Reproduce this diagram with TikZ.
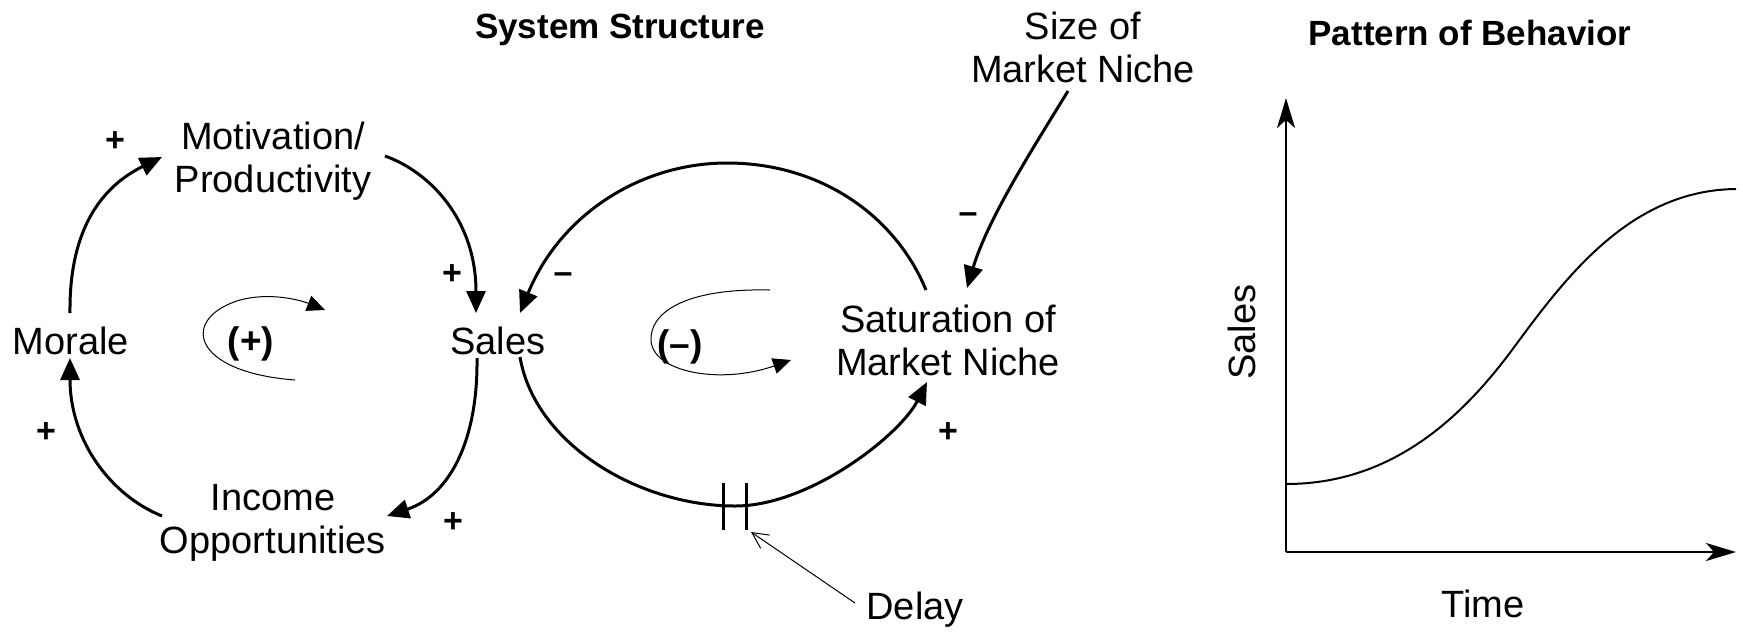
\documentclass[tikz,border=0pt]{standalone}
\usepackage{fontspec}
\setmainfont{Liberation Sans}
\usetikzlibrary{arrows.meta,calc}
\begin{document}
\begin{tikzpicture}[x=0.5pt,y=-0.5pt,
  lbl/.style={font=\fontsize{19}{21.5}\selectfont, align=center, inner sep=0pt},
  ttl/.style={font=\fontsize{17.5}{21}\selectfont\bfseries, inner sep=0pt},
  sgn/.style={font=\fontsize{17}{20}\selectfont\bfseries, inner sep=0pt},
  looplbl/.style={font=\fontsize{18.5}{21}\selectfont\bfseries, inner sep=0pt},
  arr/.style={line width=1.5pt, -{Triangle[length=11pt,width=9.5pt]}},
  loopline/.style={line width=0.5pt, -{Triangle[length=9pt,width=8pt]}},
  axis/.style={line width=1pt, -{Stealth[length=15pt,width=9pt,inset=4pt]}},
  delayarr/.style={line width=0.5pt, -{Straight Barb[length=8pt,width=8pt]}},
  bar/.style={line width=1.5pt},
]
\fill[white] (0,0) rectangle (1743,633);
\useasboundingbox (0,0) rectangle (1743,633);

% titles
\node[ttl] (t1) at (620,30) {System Structure};
\node[ttl] (t2) at (1470,33) {Pattern of Behavior};

% variables
\node[lbl] (mot) at (273,161) {Motivation/\\Productivity};
\node[lbl] (mor) at (71,341) {Morale};
\node[lbl] (sal) at (498,341) {Sales};
\node[lbl] (inc) at (273,523) {Income\\Opportunities};
\node[lbl] (sat) at (948,340) {Saturation of\\Market Niche};
\node[lbl] (siz) at (1083,47) {Size of\\Market Niche};
\node[lbl] (del) at (915,610) {Delay};

% causal links
\draw[arr] ($(mor)+(-1,-28)$) .. controls (69,225) and (105,185) .. ($(mot)+(-111,-4)$);
\draw[arr] ($(mot)+(112,-5)$) .. controls (430,172) and (476,220) .. ($(sal)+(-22,-28)$);
\draw[arr] ($(sal)+(-21,17)$) .. controls (478,440) and (450,495) .. ($(inc)+(114,-7)$);
\draw[arr] ($(inc)+(-111,-7)$) .. controls (110,495) and (70,440) .. ($(mor)+(-1,17)$);
\draw[arr] ($(sat)+(-22,-50)$) .. controls (895,215) and (820,163) .. (727,163)
   .. controls (640,163) and (560,215) .. ($(sal)+(22,-28)$);
\coordinate (dly) at (735,506);
\draw[arr] ($(sal)+(22,16)$) .. controls (535,445) and (640,506) .. (dly)
   .. controls (810,506) and (900,435) .. ($(sat)+(-21,42)$);
\draw[arr] ($(siz)+(-15,44)$) .. controls (1035,145) and (988,218) .. ($(sat)+(19,-52)$);

% delay mark
\draw[bar] ($(dly)+(-12,-23)$) -- ($(dly)+(-12,24)$);
\draw[bar] ($(dly)+(11,-23)$) -- ($(dly)+(11,24)$);
\draw[delayarr] ($(del)+(-60,-7)$) -- ($(dly)+(16,26)$);

% polarity signs
\node[sgn] (s1) at (115,142) {+};
\node[sgn] (s2) at (452,275) {+};
\node[sgn] (s3) at (563,278) {--};
\node[sgn] (s4) at (968,218) {--};
\node[sgn] (s5) at (46,433) {+};
\node[sgn] (s6) at (453,523) {+};
\node[sgn] (s7) at (948,433) {+};

% loop symbols
\draw[loopline] (295,380) .. controls (190,372) and (180,318) .. (240,300)
   .. controls (270,292) and (300,300) .. (325,310);
\node[looplbl] (lp) at (251,344) {(+)};
\draw[loopline] (770,290) .. controls (680,288) and (650,315) .. (651,340)
   .. controls (652,372) and (720,385) .. (791,360);
\node[looplbl] (lm) at (680,347) {(--)};

% behaviour graph
\coordinate (org) at (1286,552);
\coordinate (ytop) at (1286,98);
\coordinate (xend) at (1736,552);
\draw[axis] (org) -- (ytop);
\draw[axis] (org) -- (xend);
\draw[line width=1pt] (1286,484) .. controls (1390,484) and (1460,420) .. (1512,350)
   .. controls (1565,278) and (1630,190) .. (1736,189);
\node[lbl, rotate=90] (ysal) at (1242,332) {Sales};
\node[lbl] (tim) at (1483,604) {Time};
\end{tikzpicture}
\end{document}
